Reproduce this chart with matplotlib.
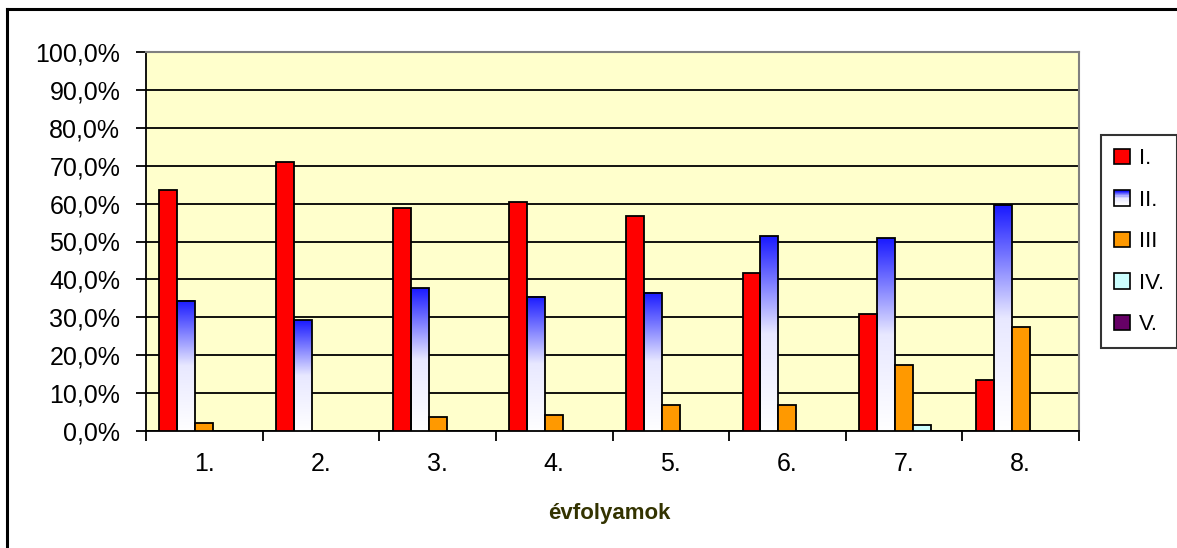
import numpy as np
import matplotlib
matplotlib.use("Agg")
import matplotlib.pyplot as plt
from matplotlib.patches import Rectangle
from matplotlib.legend_handler import HandlerBase
from matplotlib.lines import Line2D
from matplotlib.colors import LinearSegmentedColormap

plt.rcParams['font.family'] = ['Liberation Sans', 'DejaVu Sans']

# ---------------- data ----------------
evfolyam = ['1.', '2.', '3.', '4.', '5.', '6.', '7.', '8.']
sorozat = ['I.', 'II.', 'III', 'IV.', 'V.']
s1 = [63.6, 71.0, 58.8, 60.5, 56.6, 41.8, 30.8, 13.4]
s2 = [34.4, 29.2, 37.6, 35.4, 36.5, 51.4, 50.8, 59.6]
s3 = [2.2, 0.0, 3.7, 4.2, 6.9, 6.9, 17.5, 27.5]
s4 = [0.0, 0.0, 0.0, 0.0, 0.0, 0.0, 1.6, 0.0]
s5 = [0.0, 0.0, 0.0, 0.0, 0.0, 0.0, 0.0, 0.0]
adatok = [s1, s2, s3, s4, s5]
szinek = ['#FF0000', 'gradient', '#FF9900', '#CCFFFF', '#660066']

W, H = 1177, 548
fig = plt.figure(figsize=(W / 100, H / 100), dpi=100)
ax = fig.add_axes([146 / W, 1 - 431 / H, (1079 - 146) / W, (431 - 52) / H])
ax.set_facecolor('#FFFFCC')

grad_cmap = LinearSegmentedColormap.from_list('kek', ['#FFFFFF', '#E8E8FF', '#1A1AFF'])
grad = np.linspace(0, 1, 256).reshape(-1, 1)

w = 0.154
x = np.arange(len(evfolyam))
for k, vals in enumerate(adatok):
    for i, v in enumerate(vals):
        if v <= 0:
            continue
        xl = x[i] + (k - 2) * w - w / 2
        if szinek[k] == 'gradient':
            ax.imshow(grad, cmap=grad_cmap, origin='lower', aspect='auto',
                      extent=[xl, xl + w, 0, v], zorder=3, interpolation='bilinear')
            ax.add_patch(Rectangle((xl, 0), w, v, facecolor='none',
                                   edgecolor='black', lw=1.3, zorder=4))
        else:
            ax.add_patch(Rectangle((xl, 0), w, v, facecolor=szinek[k],
                                   edgecolor='black', lw=1.3, zorder=4))

ax.set_xlim(-0.5, len(evfolyam) - 0.5)
ax.set_ylim(0, 100)
ax.set_yticks(np.arange(0, 101, 10))
ax.set_yticklabels([f'{t:.1f}%'.replace('.', ',') for t in np.arange(0, 101, 10)])
ax.yaxis.grid(True, color='black', lw=1.3)
ax.set_axisbelow(True)
ax.set_xticks(np.arange(len(evfolyam) + 1) - 0.5)
ax.set_xticklabels([])
ax.set_xticks(x, minor=True)
ax.set_xticklabels(evfolyam, minor=True)
ax.tick_params(axis='x', which='minor', length=0, pad=15, labelsize=18)
ax.tick_params(axis='x', which='major', length=7, width=1.3, direction='out')
ax.tick_params(axis='y', length=7, width=1.3, pad=11.5, labelsize=18)

for s in ['left', 'bottom']:
    ax.spines[s].set_color('black')
    ax.spines[s].set_linewidth(1.3)
for s in ['top', 'right']:
    ax.spines[s].set_color('#808080')
    ax.spines[s].set_linewidth(1.5)

fig.text(609 / W, 1 - 513 / H, 'évfolyamok', ha='center', va='center',
         fontsize=16, fontweight='bold', color='#333300')


class GradHandler(HandlerBase):
    def create_artists(self, legend, orig_handle, xdescent, ydescent,
                       width, height, fontsize, trans):
        arts = []
        n = 12
        for j in range(n):
            c = grad_cmap(1 - j / (n - 1))
            arts.append(Rectangle((-xdescent, -ydescent + height * (1 - (j + 1) / n)),
                                  width, height / n, facecolor=c, edgecolor='none',
                                  transform=trans))
        arts.append(Rectangle((-xdescent, -ydescent), width, height, facecolor='none',
                              edgecolor='black', lw=1.2, transform=trans))
        return arts


handles = []
for k in range(len(sorozat)):
    if szinek[k] == 'gradient':
        handles.append(Rectangle((0, 0), 1, 1, facecolor='blue'))
    else:
        handles.append(Rectangle((0, 0), 1, 1, facecolor=szinek[k], edgecolor='black', lw=1.2))

leg = fig.legend(handles, sorozat, loc='upper left',
                 bbox_to_anchor=(1101 / W, 1 - 135 / H), bbox_transform=fig.transFigure,
                 borderaxespad=0, fontsize=16, handlelength=0.7, handleheight=0.7,
                 handletextpad=0.4, labelspacing=0.92, borderpad=0.6, fancybox=False,
                 frameon=True, handler_map={handles[1]: GradHandler()})
leg.get_frame().set_edgecolor('black')
leg.get_frame().set_linewidth(1.5)

# outer chart border (cut off at right and bottom)
fig.add_artist(Line2D([7 / W, 1.0], [1 - 9 / H, 1 - 9 / H], color='black', lw=2.2,
                      transform=fig.transFigure))
fig.add_artist(Line2D([7 / W, 7 / W], [0.0, 1 - 9 / H], color='black', lw=2.2,
                      transform=fig.transFigure))

fig.savefig('out.png', dpi=100)
